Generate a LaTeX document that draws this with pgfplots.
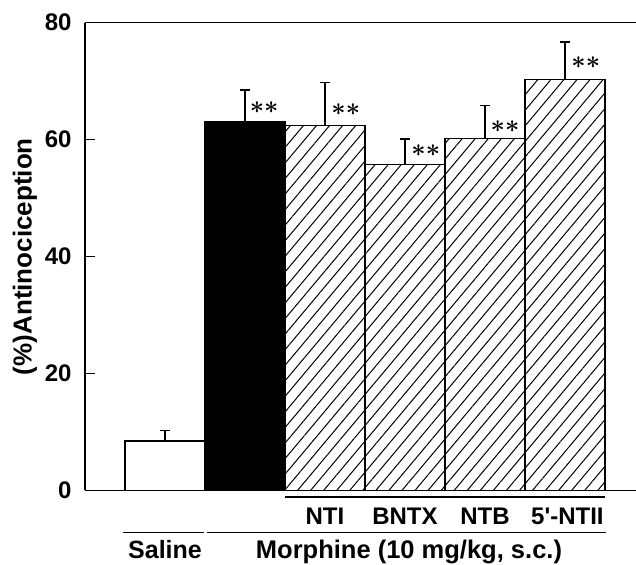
\documentclass[border=0pt]{standalone}
\usepackage{fontspec}
\setmainfont{Liberation Sans}
\newfontfamily\plainfont{Liberation Sans}
\usepackage{pgfplots}
\pgfplotsset{compat=1.18}
\usetikzlibrary{patterns.meta}

\begin{document}
\begin{tikzpicture}
\begin{axis}[
  scale only axis, width=551pt, height=467.8pt,
  xmin=-1, xmax=5.8875, ymin=0, ymax=80,
  axis x line=box, axis y line=left,
  axis line style={-, line width=1.4pt},
  xtick=\empty, ytick={0,20,40,60,80},
  tick align=inside, major tick length=10pt,
  tick style={line width=1.2pt, black},
  /pgf/number format/assume math mode=true,
  yticklabel style={font=\fontsize{24}{24}\selectfont\bfseries, xshift=-10pt},
  ylabel={(\%)Antinociception},
  ylabel style={font=\fontsize{26}{26}\selectfont\bfseries, at={(axis description cs:-0.109,0.5)}, anchor=center},
  clip=false,
]
\addplot[ybar, bar width=1, bar shift=0, draw=black, line width=1.4pt, fill=white,
  error bars/.cd, y dir=plus, y explicit,
  error bar style={line width=1.2pt},
  error mark options={rotate=90, mark size=5pt, line width=1.2pt}]
  coordinates {(0,8.47) +- (0,1.73)};
\addplot[ybar, bar width=1, bar shift=0, draw=black, line width=1.4pt, fill=black,
  error bars/.cd, y dir=plus, y explicit,
  error bar style={line width=1.2pt},
  error mark options={rotate=90, mark size=5pt, line width=1.2pt}]
  coordinates {(1,63.07) +- (0,5.43)};
\addplot[ybar, bar width=1, bar shift=0, draw=black, line width=1.4pt,
  pattern={Lines[angle=50,distance=10pt,line width=1pt]},
  error bars/.cd, y dir=plus, y explicit,
  error bar style={line width=1.2pt},
  error mark options={rotate=90, mark size=5pt, line width=1.2pt}]
  coordinates {(2,62.4) +- (0,7.4) (3,55.7) +- (0,4.4) (4,60.2) +- (0,5.6) (5,70.3) +- (0,6.4)};

\tikzset{ast/.style={font=\fontsize{31}{31}\selectfont\boldmath, inner sep=0pt}}
\node[ast] at (axis cs:1.24,65.4) {$\ast\ast$};
\node[ast] at (axis cs:2.26,65.1) {$\ast\ast$};
\node[ast] at (axis cs:3.26,58.1) {$\ast\ast$};
\node[ast] at (axis cs:4.25,62.3) {$\ast\ast$};
\node[ast] at (axis cs:5.26,73.2) {$\ast\ast$};

\draw[line width=1.4pt] (axis cs:1.5,-1.11) -- (axis cs:5.5,-1.11);
\draw[line width=1.4pt] (axis cs:-0.525,-7.18) -- (axis cs:0.4875,-7.18);
\draw[line width=1.4pt] (axis cs:0.525,-7.18) -- (axis cs:5.5125,-7.18);

\node[anchor=base, font=\fontsize{24}{24}\selectfont\bfseries] at (axis cs:2,-5.9) {NTI};
\node[anchor=base, font=\fontsize{24}{24}\selectfont\bfseries] at (axis cs:3,-5.9) {BNTX};
\node[anchor=base, font=\fontsize{24}{24}\selectfont\bfseries] at (axis cs:4,-5.9) {NTB};
\node[anchor=base, font=\fontsize{24}{24}\selectfont\plainfont\bfseries] at (axis cs:5.03,-5.9) {5'-NTII};

\node[anchor=base, font=\fontsize{25}{25}\selectfont\bfseries] at (axis cs:0,-11.55) {Saline};
\node[anchor=base, font=\fontsize{25.5}{25.5}\selectfont\bfseries] at (axis cs:3.05,-11.55) {Morphine (10 mg/kg, s.c.)};

\coordinate (bbA) at (axis cs:-2.0625,83.88);
\coordinate (bbB) at (axis cs:5.8875,-12.74);
\end{axis}
\pgfresetboundingbox
\useasboundingbox (bbA) rectangle (bbB);
\end{tikzpicture}
\end{document}
